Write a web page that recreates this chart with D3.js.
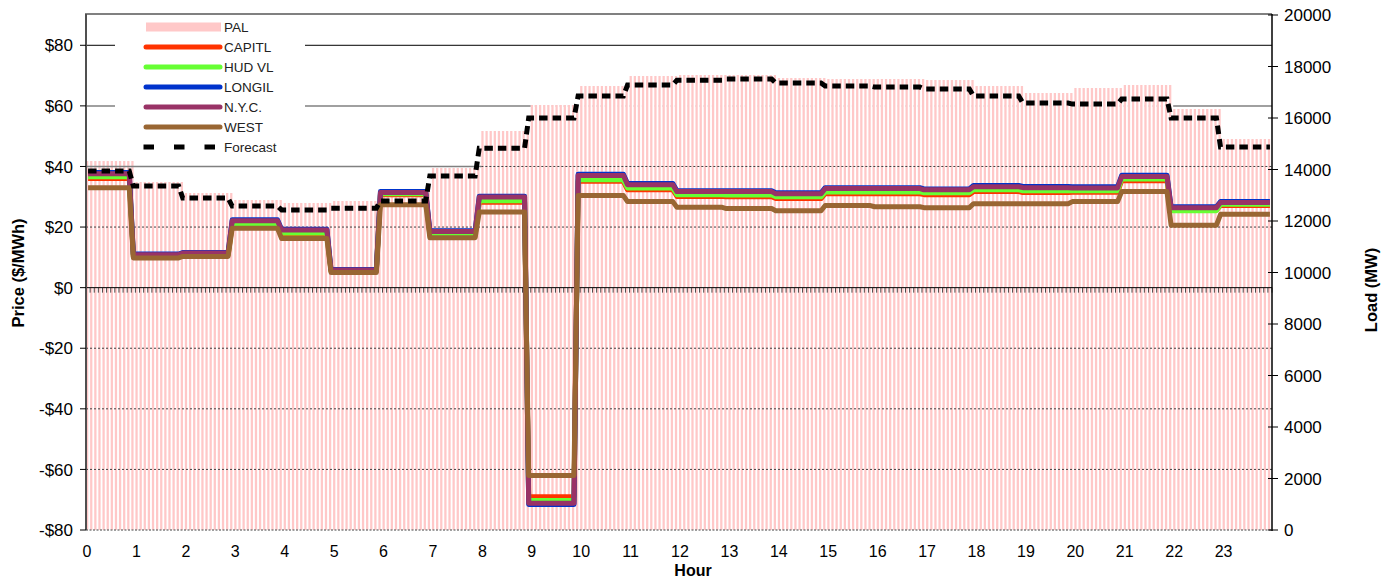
<!DOCTYPE html>
<html>
<head>
<meta charset="utf-8">
<script src="https://cdn.jsdelivr.net/npm/d3@7"></script>
<style>
  html, body { margin: 0; padding: 0; background: #fff; }
  svg { display: block; font-family: "Liberation Sans", Arial, sans-serif; }
</style>
</head>
<body>
<svg id="chart" width="1390" height="579"></svg>
<script>
// Hourly values; each hour is shown as twelve 5-minute intervals.
const hourLabels = d3.range(24).map(String);
const palLoad      = [14330, 13515, 13087, 12816, 12700, 12777, 13165, 14058, 15495, 16505, 17243, 17631,
                      17670, 17670, 17553, 17515, 17515, 17476, 17243, 16971, 17165, 17282, 16350, 15184];
const forecastLoad = [13940, 13360, 12890, 12580, 12430, 12500, 12780, 13750, 14830, 16000, 16850, 17280,
                      17470, 17510, 17360, 17240, 17200, 17130, 16850, 16580, 16540, 16740, 16000, 14870];
const capitl = [36.0, 10.2, 10.7, 20.5, 17.5, 5.4, 30.7, 17.3, 28.2, -69.0, 35.1, 32.3,
                30.1, 30.0, 29.4, 31.0, 31.0, 30.7, 31.7, 31.4, 31.5, 35.3, 25.6, 27.1];
const hudvl  = [36.6, 10.4, 10.9, 21.0, 18.0, 5.5, 31.0, 17.8, 28.7, -70.3, 35.6, 32.9,
                30.7, 30.6, 30.0, 31.6, 31.6, 31.3, 32.3, 32.0, 32.0, 35.9, 25.4, 27.5];
const longil = [38.0, 11.1, 11.6, 22.4, 19.3, 6.0, 31.7, 18.8, 30.2, -71.6, 37.4, 34.4,
                32.0, 32.0, 31.3, 33.0, 33.0, 32.6, 33.7, 33.4, 33.3, 37.1, 26.7, 28.4];
const nyc    = [37.6, 10.9, 11.4, 22.1, 19.0, 5.8, 31.4, 18.5, 29.9, -71.2, 37.0, 34.0,
                31.7, 31.7, 31.0, 32.7, 32.7, 32.3, 33.3, 33.0, 32.9, 36.7, 26.4, 28.1];
const west   = [33.0, 9.8, 10.3, 19.6, 16.2, 5.0, 27.4, 16.5, 25.0, -62.0, 30.4, 28.4,
                26.5, 26.1, 25.4, 27.1, 26.7, 26.4, 27.7, 27.7, 28.4, 31.7, 20.6, 24.2];
const priceTicks = [-80, -60, -40, -20, 0, 20, 40, 60, 80];
const loadTicks  = [0, 2000, 4000, 6000, 8000, 10000, 12000, 14000, 16000, 18000, 20000];

const series = [
  { name: "CAPITL", values: capitl, color: "#FF3300" },
  { name: "HUD VL", values: hudvl,  color: "#66FF33" },
  { name: "LONGIL", values: longil, color: "#0033CC" },
  { name: "N.Y.C.", values: nyc,    color: "#993366" },
  { name: "WEST",   values: west,   color: "#996633" }
];

const perHour = 12;
const nIntervals = 24 * perHour;
const intervals = d3.range(nIntervals);
// bars follow the clock hour, prices/forecast switch one interval ahead
const barHour  = i => Math.floor(i / perHour);
const lineHour = i => Math.min(23, Math.floor((i + 1) / perHour));

const L = 86, R = 1272, T = 15, B = 530;
const svg = d3.select("#chart");

const x = d3.scaleBand().domain(intervals).range([L, R]).paddingInner(0).paddingOuter(0);
const yP = d3.scaleLinear().domain([-80, 90]).range([B, T]);
const yL = d3.scaleLinear().domain([0, 20000]).range([B, T]);

// solid gridlines behind the columns
svg.append("line").attr("x1", L).attr("x2", R).attr("y1", yP(80)).attr("y2", yP(80))
  .attr("stroke", "#000").attr("stroke-width", 1);
svg.append("line").attr("x1", L).attr("x2", R).attr("y1", yP(60)).attr("y2", yP(60))
  .attr("stroke", "#808080").attr("stroke-width", 1.5);

// load columns, each with an opaque white gap
const bars = svg.append("g");
bars.selectAll("rect.gap").data(intervals).join("rect")
  .attr("class", "gap")
  .attr("x", i => x(i)).attr("width", x.bandwidth())
  .attr("y", i => yL(palLoad[barHour(i)]))
  .attr("height", i => B - yL(palLoad[barHour(i)]))
  .attr("fill", "#fff");
bars.selectAll("rect.pal").data(intervals).join("rect")
  .attr("class", "pal")
  .attr("x", i => x(i)).attr("width", x.bandwidth() * 0.55)
  .attr("y", i => yL(palLoad[barHour(i)]))
  .attr("height", i => B - yL(palLoad[barHour(i)]))
  .attr("fill", "#FFC8C8");

// $40 line: solid across the early hours, dotted over the later ones
svg.append("line").attr("x1", L).attr("x2", x(8 * perHour)).attr("y1", yP(40)).attr("y2", yP(40))
  .attr("stroke", "#808080").attr("stroke-width", 1.5);
svg.append("line").attr("x1", x(8 * perHour)).attr("x2", R).attr("y1", yP(40)).attr("y2", yP(40))
  .attr("stroke", "#404040").attr("stroke-width", 1).attr("stroke-dasharray", "2,2");
svg.append("g").selectAll("line").data([20, -20, -40, -60]).join("line")
  .attr("x1", L).attr("x2", R).attr("y1", d => yP(d)).attr("y2", d => yP(d))
  .attr("stroke", "#404040").attr("stroke-width", 1).attr("stroke-dasharray", "2,2");
svg.append("line").attr("x1", L).attr("x2", R).attr("y1", B).attr("y2", B)
  .attr("stroke", "#808080").attr("stroke-width", 1.5).attr("stroke-dasharray", "2,1.5");

// category axis crossing at $0
const zeroY = yP(0);
svg.append("line").attr("x1", L).attr("x2", R).attr("y1", zeroY).attr("y2", zeroY)
  .attr("stroke", "#000").attr("stroke-width", 1);
svg.append("g").selectAll("line").data(d3.range(nIntervals + 1)).join("line")
  .attr("x1", i => L + i * x.step()).attr("x2", i => L + i * x.step())
  .attr("y1", zeroY).attr("y2", zeroY + 5)
  .attr("stroke", "#222").attr("stroke-width", 0.8);

// price lines
const priceLine = vals => d3.line()
  .x(i => x(i) + x.bandwidth() / 2)
  .y(i => yP(vals[lineHour(i)]))(intervals);
svg.append("g").selectAll("path").data(series).join("path")
  .attr("d", s => priceLine(s.values))
  .attr("fill", "none").attr("stroke", s => s.color)
  .attr("stroke-width", 5).attr("stroke-linejoin", "round");

// forecast load
const forecastPath = d3.line()
  .x(i => x(i) + x.bandwidth() / 2)
  .y(i => yL(forecastLoad[lineHour(i)]))(intervals);
svg.append("path").attr("d", forecastPath)
  .attr("fill", "none").attr("stroke", "#000").attr("stroke-width", 5)
  .attr("stroke-dasharray", "8.5,5");

// plot frame and axes
svg.append("line").attr("x1", L - 1).attr("x2", R).attr("y1", T - 1).attr("y2", T - 1)
  .attr("stroke", "#808080").attr("stroke-width", 2);
svg.append("line").attr("x1", L).attr("x2", L).attr("y1", T - 1).attr("y2", B)
  .attr("stroke", "#505050").attr("stroke-width", 2);
svg.append("line").attr("x1", R).attr("x2", R).attr("y1", T - 1).attr("y2", B + 1)
  .attr("stroke", "#000").attr("stroke-width", 1.5);

const fmtPrice = d => (d < 0 ? "-$" : "$") + Math.abs(d);
const leftAxis = svg.append("g");
leftAxis.selectAll("line").data(priceTicks).join("line")
  .attr("x1", L - 6).attr("x2", L).attr("y1", d => yP(d)).attr("y2", d => yP(d))
  .attr("stroke", "#000");
leftAxis.selectAll("text").data(priceTicks).join("text")
  .attr("x", L - 13).attr("y", d => yP(d)).attr("dy", "0.36em")
  .attr("text-anchor", "end").attr("font-size", 17).attr("fill", "#000")
  .text(fmtPrice);

const rightAxis = svg.append("g");
rightAxis.selectAll("line").data(loadTicks).join("line")
  .attr("x1", R - 4).attr("x2", R + 6).attr("y1", d => yL(d)).attr("y2", d => yL(d))
  .attr("stroke", "#000");
rightAxis.selectAll("text").data(loadTicks).join("text")
  .attr("x", R + 12).attr("y", d => yL(d)).attr("dy", "0.36em")
  .attr("text-anchor", "start").attr("font-size", 17).attr("fill", "#000")
  .text(d => String(d));

svg.append("g").selectAll("text").data(hourLabels).join("text")
  .attr("x", (d, h) => x(h * perHour) + 1).attr("y", 557)
  .attr("text-anchor", "middle").attr("font-size", 16).attr("fill", "#000")
  .text(d => d);

svg.append("text").attr("x", 693).attr("y", 576).attr("text-anchor", "middle")
  .attr("font-size", 16).attr("font-weight", "bold").text("Hour");
svg.append("text").attr("transform", "translate(24,273) rotate(-90)")
  .attr("text-anchor", "middle").attr("font-size", 16.5).attr("font-weight", "bold")
  .text("Price ($/MWh)");
svg.append("text").attr("transform", "translate(1377,290) rotate(-90)")
  .attr("text-anchor", "middle").attr("font-size", 16.5).attr("font-weight", "bold")
  .text("Load (MW)");

// legend
const legend = svg.append("g");
legend.append("rect").attr("x", 115).attr("y", T + 1).attr("width", 190).attr("height", 142)
  .attr("fill", "#fff");
const legendItems = [{ name: "PAL", kind: "bar", color: "#FFC8C8" }]
  .concat(series.map(s => ({ name: s.name, kind: "line", color: s.color })))
  .concat([{ name: "Forecast", kind: "dash", color: "#000" }]);
const rowY = k => 27 + k * 20;
legendItems.forEach((it, k) => {
  const cy = rowY(k);
  if (it.kind === "bar") {
    legend.append("rect").attr("x", 146).attr("y", cy - 4.5).attr("width", 75).attr("height", 9)
      .attr("fill", it.color);
  } else if (it.kind === "line") {
    legend.append("line").attr("x1", 146).attr("x2", 220).attr("y1", cy).attr("y2", cy)
      .attr("stroke", it.color).attr("stroke-width", 5).attr("stroke-linecap", "round");
  } else {
    legend.append("line").attr("x1", 143.5).attr("x2", 222).attr("y1", cy).attr("y2", cy)
      .attr("stroke", it.color).attr("stroke-width", 5).attr("stroke-dasharray", "10.5,20");
  }
  legend.append("text").attr("x", 224).attr("y", cy).attr("dy", "0.35em")
    .attr("font-size", 13.5).attr("fill", "#222").text(it.name);
});
</script>
</body>
</html>
